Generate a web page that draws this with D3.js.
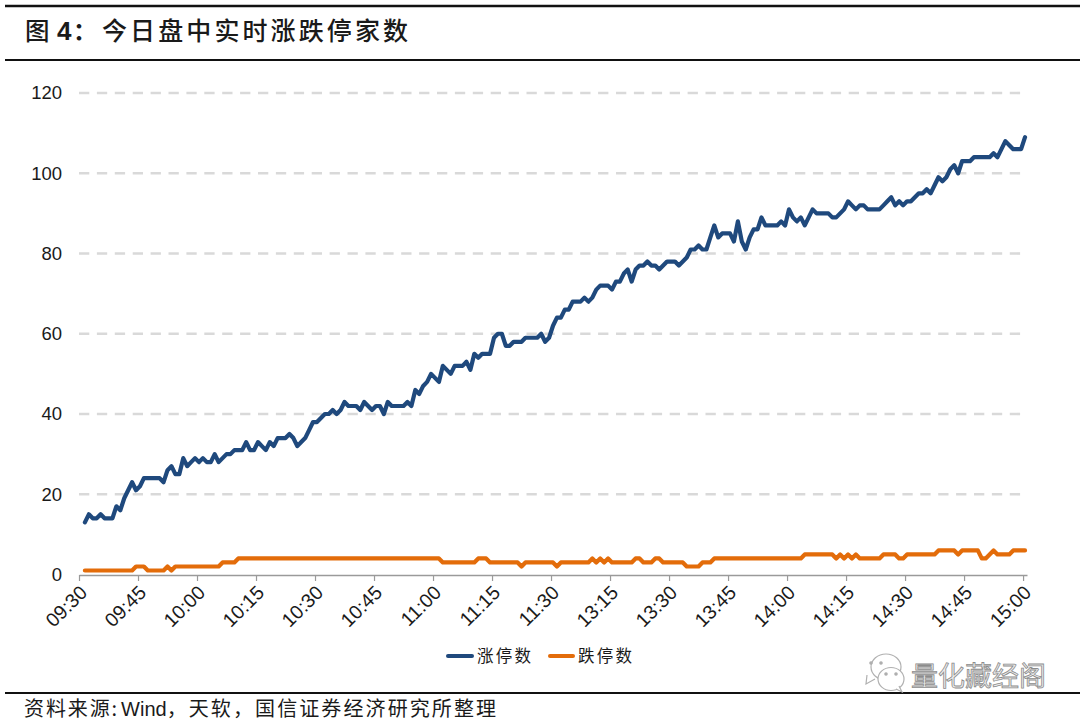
<!DOCTYPE html>
<html lang="zh">
<head>
<meta charset="utf-8">
<script src="https://cdn.jsdelivr.net/npm/d3@7/dist/d3.min.js"></script>
<style>
html,body{margin:0;padding:0;background:#fff}
svg{display:block}
text{font-family:"Liberation Sans",Arial,sans-serif;fill:#1a1a1a}
.cjk{font-family:"Noto Sans CJK SC","Noto Sans",sans-serif}
</style>
</head>
<body>
<svg id="c" width="1080" height="724"></svg>
<script>
const upLimit = [13,15,14,14,15,14,14,14,17,16,19,21,23,21,22,24,24,24,24,24,23,26,27,25,25,29,27,28,29,28,29,28,28,30,28,29,30,30,31,31,31,33,31,31,33,32,31,33,32,34,34,34,35,34,32,33,34,36,38,38,39,40,40,41,40,41,43,42,42,42,41,43,42,41,42,42,40,43,42,42,42,42,43,42,46,45,47,48,50,49,48,52,51,50,52,52,52,53,51,55,54,55,55,55,59,60,60,57,57,58,58,58,59,59,59,59,60,58,59,62,64,64,66,66,68,68,68,69,68,69,71,72,72,72,71,73,73,75,76,73,76,77,77,78,77,77,76,77,78,78,78,77,78,79,81,81,82,81,81,84,87,84,85,85,85,83,88,83,81,84,86,86,89,87,87,87,87,88,87,91,89,88,89,87,89,91,90,90,90,90,89,89,90,91,93,92,91,92,92,91,91,91,91,92,93,94,92,93,92,93,93,94,95,95,96,95,97,99,98,99,101,102,100,103,103,103,104,104,104,104,104,105,104,106,108,107,106,106,106,109];
const downLimit = [1,1,1,1,1,1,1,1,1,1,1,1,1,2,2,2,1,1,1,1,1,2,1,2,2,2,2,2,2,2,2,2,2,2,2,3,3,3,3,4,4,4,4,4,4,4,4,4,4,4,4,4,4,4,4,4,4,4,4,4,4,4,4,4,4,4,4,4,4,4,4,4,4,4,4,4,4,4,4,4,4,4,4,4,4,4,4,4,4,4,4,3,3,3,3,3,3,3,3,3,4,4,4,3,3,3,3,3,3,3,3,2,3,3,3,3,3,3,3,3,2,3,3,3,3,3,3,3,3,4,3,4,3,4,3,3,3,3,3,3,4,4,3,3,3,4,4,3,3,3,3,3,3,2,2,2,2,3,3,3,4,4,4,4,4,4,4,4,4,4,4,4,4,4,4,4,4,4,4,4,4,4,4,5,5,5,5,5,5,5,5,4,5,4,5,4,5,4,4,4,4,4,4,5,5,5,5,4,4,5,5,5,5,5,5,5,5,6,6,6,6,6,5,6,6,6,6,6,4,4,5,6,5,5,5,5,6,6,6,6];
const minuteIndex = upLimit.map((_, i) => i + 1);
const tickLabels = ["09:30","09:45","10:00","10:15","10:30","10:45","11:00","11:15","11:30","13:15","13:30","13:45","14:00","14:15","14:30","14:45","15:00"];
const tickMinutes = tickLabels.map((_, i) => i * 15);
const yTicks = [0,20,40,60,80,100,120];
const seriesNames = ["涨停数","跌停数"];
const seriesColors = ["#1f497d","#e36c0a"];
const titleText = "今日盘中实时涨跌停家数";
const sourceParts = ["资料来源:","Wind","，天软，国信证券经济研究所整理"];
const watermarkText = "量化藏经阁";

const svg = d3.select("#c");
const x = d3.scaleLinear().domain([0, 241]).range([79, 1027]);
const y = d3.scaleLinear().domain([0, 120]).range([574.5, 93]);

[[6,2.4],[60,2],[693,2]].forEach(([py,w]) => {
  svg.append("line").attr("x1",5).attr("x2",1080).attr("y1",py).attr("y2",py)
     .attr("stroke","#111").attr("stroke-width",w);
});

svg.append("text").attr("class","cjk").attr("x",25).attr("y",40).attr("font-size",24.5).attr("font-weight",500).text("图");
svg.append("text").attr("x",57).attr("y",40).attr("font-size",26).attr("font-weight",700).text("4");
svg.append("text").attr("class","cjk").attr("x",73).attr("y",40).attr("font-size",24).attr("font-weight",700).text("：");
svg.append("text").attr("class","cjk").attr("x",102).attr("y",40).attr("font-size",25).attr("font-weight",500)
   .attr("letter-spacing",3.1).text(titleText);

svg.append("g").selectAll("line").data(yTicks.filter(d => d > 0)).join("line")
   .attr("x1",79).attr("x2",1027).attr("y1",d=>y(d)).attr("y2",d=>y(d))
   .attr("stroke","#d9d9d9").attr("stroke-width",2.6).attr("stroke-dasharray","10.3 7.6");

const yAxis = svg.append("g").attr("transform","translate(79,0)")
   .call(d3.axisLeft(y).tickValues(yTicks).tickSize(0).tickPadding(17));
yAxis.select(".domain").remove();
yAxis.selectAll("text").attr("font-size",18.5).attr("font-family","Liberation Sans").attr("fill","#1a1a1a");

const xAxis = svg.append("g").attr("transform","translate(0,575)")
   .call(d3.axisBottom(x).tickValues(tickMinutes)
     .tickFormat((d,i)=>tickLabels[i]).tickSize(6).tickSizeOuter(0));
xAxis.select(".domain").attr("stroke","#9a9a9a").attr("stroke-width",1.4);
xAxis.selectAll(".tick line").attr("stroke","#9a9a9a").attr("stroke-width",1.2);
xAxis.selectAll("text").attr("font-size",19.5).attr("font-family","Liberation Sans").attr("fill","#1a1a1a")
   .attr("text-anchor","end").attr("transform","translate(4,14) rotate(-45)").attr("dy","0.35em").attr("y",0).attr("x",0);

const line = d3.line().x((d,i)=>x(minuteIndex[i]+0.5)).y(d=>y(d));
[upLimit,downLimit].forEach((s,k)=>{
  svg.append("path").datum(s).attr("d",line).attr("fill","none")
     .attr("stroke",seriesColors[k]).attr("stroke-width",4.2)
     .attr("stroke-linejoin","round").attr("stroke-linecap","round");
});

const legX = [[448,472,477],[550,573,578]];
seriesNames.forEach((n,k)=>{
  svg.append("line").attr("x1",legX[k][0]).attr("x2",legX[k][1]).attr("y1",656).attr("y2",656)
     .attr("stroke",seriesColors[k]).attr("stroke-width",4).attr("stroke-linecap","round");
  svg.append("text").attr("class","cjk").attr("x",legX[k][2]).attr("y",662).attr("font-size",16.5)
     .attr("letter-spacing",2.2).text(n);
});

const src = svg.append("text").attr("x",24).attr("y",716).attr("font-size",20);
src.append("tspan").attr("class","cjk").attr("letter-spacing",1.9).text(sourceParts[0]);
src.append("tspan").attr("dx",2).text(sourceParts[1]);
src.append("tspan").attr("class","cjk").attr("letter-spacing",2.1).text(sourceParts[2]);

const wm = svg.append("g").attr("fill","#fff").attr("stroke","#b0b0b0").attr("stroke-width",1.2);
wm.append("ellipse").attr("cx",877+9).attr("cy",667).attr("rx",15).attr("ry",13);
wm.append("path").attr("d","M867,675 L866,684 L875,679");
wm.append("ellipse").attr("cx",891).attr("cy",679).attr("rx",13).attr("ry",11.5);
wm.append("path").attr("d","M896,689 L902,692 L899,686");
[[871,663],[881,663],[886,674],[896,674]].forEach(([a,b])=>wm.append("circle").attr("cx",a).attr("cy",b).attr("r",1.2).attr("fill","#aaa"));
svg.append("text").attr("class","cjk").attr("x",911).attr("y",686).attr("font-size",27)
   .style("fill","#ececec").attr("stroke","#8c8c8c").attr("stroke-width",0.8).text(watermarkText);
</script>
</body>
</html>
